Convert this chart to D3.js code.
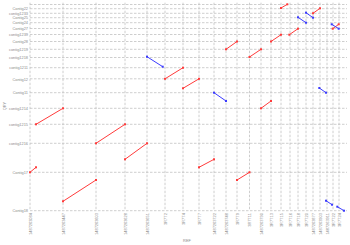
<!DOCTYPE html>
<html><head><meta charset="utf-8">
<script src="https://cdn.jsdelivr.net/npm/d3@7"></script>
<style>html,body{margin:0;padding:0;background:#fff;}svg{display:block;}</style>
</head><body>
<script>
// Reference (x) contig start positions (kb) and labels
const refStarts = [0,330,660,950,1170,1350,1530,1690,1840,1960,2070,2195,2310,2410,2510,2600,2680,2760,2830,2900,2970,3030,3090];
const refLabels = ["1487263084","1487263447","1487263603","1487263628","1487263651","3R7T2","3R7T4","3R7T7","1487263722","1487263748","3R7T9","3R7T11","1487263790","3R7T13","3R7T15","3R7T16","3R7T18","3R7T20","1487263877","1487263903","1487263911","3R7T22","3R7T24"];
const refEnd = 3170;
// Query (y) contig start positions (kb) and labels
const qryStarts = [0,384,674,864,1024,1180,1319,1430,1532,1614,1692,1762,1822,1880,1930,1974,2020];
const qryLabels = ["Contig18","Contig17","contig1216","contig1215","contig1214","Contig11","Contig12","contig1211","contig1218","contig1219","Contig28","contig1239","Contig27","Contig24","Contig25","contig1233","Contig22"];
const qryEnd = 2080;
// Forward alignments [refStart, qryStart, refEnd, qryEnd]
const fwdAlignments = [
  [60,864,330,1024],[660,674,950,864],[0,384,60,434],[330,94,660,307],
  [950,514,1170,674],[1690,434,1840,514],[2070,307,2195,384],[1350,1319,1530,1430],
  [1530,1224,1690,1319],[1960,1614,2070,1692],[2195,1537,2310,1614],[2310,1024,2410,1097],
  [2410,1692,2510,1760],[2510,2027,2573,2064],[2593,1760,2680,1820],[2830,1974,2900,2024],
  [3027,1820,3087,1864]
];
// Reverse alignments
const revAlignments = [
  [1170,1540,1327,1440],[1840,1180,1960,1097],[2680,1934,2760,1880],[2760,1980,2830,1930],
  [2893,1227,2960,1180],[2960,100,3020,60],[3017,1864,3087,1820],[3073,40,3140,0]
];

const W = 350, H = 245;
const svg = d3.select("body").append("svg").attr("width", W).attr("height", H);
const x = d3.scaleLinear().domain([0, refEnd]).range([30, 347]);
const y = d3.scaleLinear().domain([0, qryEnd]).range([210.7, 2.7]);
const font = "'Liberation Sans', Arial, sans-serif";
const gridColor = "#c2c2c2";
const textColor = "#8c8c8c";

// grid lines
const g = svg.append("g");
g.selectAll("line.vx").data(refStarts).join("line")
  .attr("x1", d => x(d)).attr("x2", d => x(d))
  .attr("y1", y(qryEnd)).attr("y2", y(0))
  .attr("stroke", gridColor).attr("stroke-width", 0.8).attr("stroke-dasharray", "2.5,1.5");
g.selectAll("line.hy").data(qryStarts.concat([2062])).join("line")
  .attr("y1", d => y(d)).attr("y2", d => y(d))
  .attr("x1", x(0)).attr("x2", x(refEnd))
  .attr("stroke", gridColor).attr("stroke-width", 0.8).attr("stroke-dasharray", "2.5,1.5");

// axes labels (via d3 axes, no domain/ticks lines)
const xAxis = d3.axisBottom(x).tickValues(refStarts).tickFormat((d,i) => refLabels[i]).tickSize(0).tickPadding(0);
const xa = svg.append("g").attr("transform", `translate(0,${y(0)})`).call(xAxis);
xa.select(".domain").remove();
xa.selectAll("text")
  .attr("transform", "rotate(-90)")
  .attr("x", -2.5).attr("y", 0).attr("dy", "0.35em")
  .style("text-anchor", "end")
  .attr("font-family", font).attr("font-size", 3.9).attr("fill", textColor);

const yAxis = d3.axisLeft(y).tickValues(qryStarts).tickFormat((d,i) => qryLabels[i]).tickSize(0).tickPadding(2);
const ya = svg.append("g").attr("transform", `translate(${x(0)},0)`).call(yAxis);
ya.select(".domain").remove();
ya.selectAll("text").attr("font-family", font).attr("font-size", 3.9).attr("fill", textColor);

svg.append("text").attr("x", 187).attr("y", 242).attr("text-anchor", "middle")
  .attr("font-family", font).attr("font-size", 3.9).attr("fill", textColor).text("REF");
svg.append("text").attr("transform", "translate(6,106) rotate(-90)").attr("text-anchor", "middle")
  .attr("font-family", font).attr("font-size", 3.9).attr("fill", textColor).text("QRY");

// alignments
function drawSet(data, color) {
  const s = svg.append("g");
  s.selectAll("line").data(data).join("line")
    .attr("x1", d => x(d[0])).attr("y1", d => y(d[1]))
    .attr("x2", d => x(d[2])).attr("y2", d => y(d[3]))
    .attr("stroke", color).attr("stroke-width", 1);
  const pts = data.flatMap(d => [[d[0], d[1]], [d[2], d[3]]]);
  s.selectAll("rect").data(pts).join("rect")
    .attr("x", d => x(d[0]) - 1).attr("y", d => y(d[1]) - 1)
    .attr("width", 2).attr("height", 2).attr("fill", color);
}
drawSet(fwdAlignments, "#ff3b3b");
drawSet(revAlignments, "#3b3bff");
</script>
</body></html>
